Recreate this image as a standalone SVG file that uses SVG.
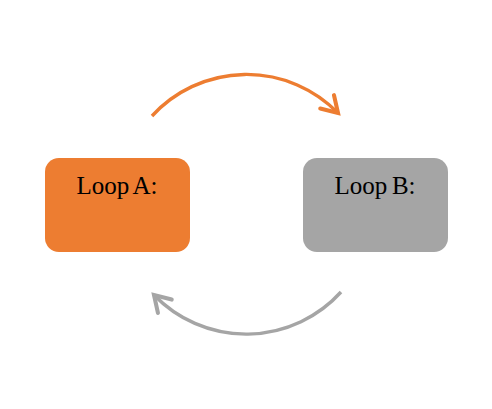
<svg xmlns="http://www.w3.org/2000/svg" width="492" height="409" viewBox="0 0 492 409">
<style>
.lbl{font-family:"Liberation Serif","Times New Roman",serif;font-size:25px;fill:#000;text-anchor:middle;word-spacing:-1.5px}
.conn{fill:none;stroke-width:3.4}
</style>
<defs>
<marker id="ahO" markerUnits="userSpaceOnUse" markerWidth="24" markerHeight="24" viewBox="-16 -10 20 20" refX="0" refY="0" orient="auto">
<path d="M-13,-8 L0,0 L-13,8" fill="none" stroke="#ED7D31" stroke-width="3.4" stroke-linecap="round" stroke-linejoin="miter"/>
</marker>
<marker id="ahG" markerUnits="userSpaceOnUse" markerWidth="24" markerHeight="24" viewBox="-16 -10 20 20" refX="0" refY="0" orient="auto">
<path d="M-13,-8 L0,0 L-13,8" fill="none" stroke="#A5A5A5" stroke-width="3.4" stroke-linecap="round" stroke-linejoin="miter"/>
</marker>
</defs>
<rect width="492" height="409" fill="#fff"/>
<g id="connectors">
<path class="conn" d="M152,116 A128,128 0 0,1 338,113" stroke="#ED7D31" marker-end="url(#ahO)"/>
<path class="conn" d="M341,292 A128,128 0 0,1 154,295" stroke="#A5A5A5" marker-end="url(#ahG)"/>
</g>
<g id="loopA">
<rect x="45" y="158" width="145" height="94" rx="14" fill="#ED7D31"/>
<text class="lbl" x="117" y="194">Loop A:</text>
</g>
<g id="loopB">
<rect x="303" y="158" width="145" height="94" rx="14" fill="#A5A5A5"/>
<text class="lbl" x="375" y="194">Loop B:</text>
</g>
</svg>
